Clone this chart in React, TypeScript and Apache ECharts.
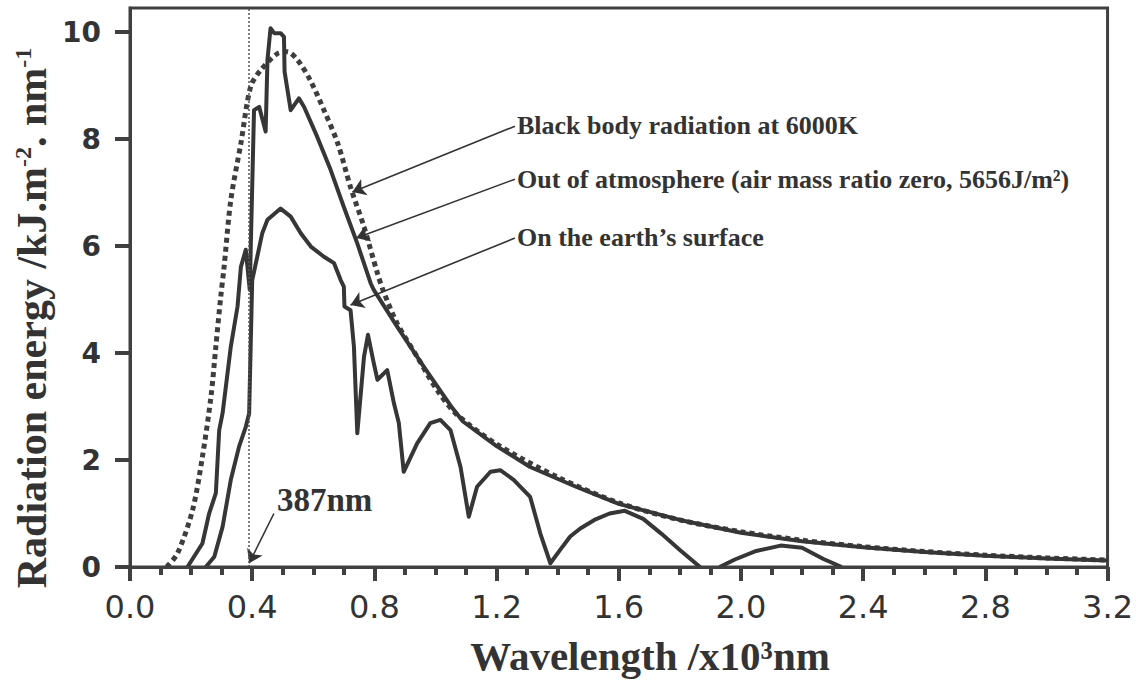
import React, { useEffect, useRef } from 'react';
import * as echarts from 'echarts';

// Black body radiation at 6000K (dotted)
const bbWavelength = [0.12, 0.156, 0.205, 0.237, 0.265, 0.281, 0.297, 0.308, 0.33, 0.363, 0.395, 0.428, 0.483, 0.515, 0.548, 0.59, 0.635, 0.68, 0.722, 0.766, 0.81, 0.83, 0.875, 0.94, 1.005, 1.07, 1.2, 1.4, 1.6, 1.8, 2.0, 2.2, 2.4, 2.6, 2.8, 3.0, 3.2];
const bbEnergy = [0, 0.26, 1.07, 2.06, 3.18, 4.12, 5.05, 5.61, 6.86, 7.92, 8.98, 9.29, 9.6, 9.63, 9.48, 9.1, 8.54, 7.92, 7.1, 6.36, 5.49, 5.15, 4.55, 3.93, 3.31, 2.85, 2.3, 1.68, 1.2, 0.88, 0.66, 0.5, 0.38, 0.29, 0.22, 0.17, 0.13];

// Out of atmosphere (air mass ratio zero)
const outWavelength = [0.188, 0.237, 0.259, 0.281, 0.292, 0.303, 0.33, 0.352, 0.363, 0.379, 0.392, 0.406, 0.423, 0.444, 0.45, 0.46, 0.472, 0.493, 0.504, 0.506, 0.526, 0.553, 0.57, 0.613, 0.657, 0.7, 0.744, 0.788, 0.798, 0.875, 0.962, 1.049, 1.09, 1.2, 1.31, 1.46, 1.6, 1.8, 2.0, 2.2, 2.4, 2.6, 2.8, 3.0, 3.2];
const outEnergy = [0, 0.44, 1.0, 1.38, 2.56, 2.87, 4.12, 4.87, 5.61, 5.93, 5.18, 8.54, 8.6, 8.14, 9.48, 10.07, 9.98, 9.98, 9.91, 9.26, 8.54, 8.76, 8.6, 8.04, 7.42, 6.73, 6.05, 5.3, 5.18, 4.49, 3.74, 3.02, 2.72, 2.26, 1.87, 1.5, 1.18, 0.88, 0.64, 0.48, 0.37, 0.28, 0.21, 0.16, 0.12];

// On the earth's surface
const surfWavelength = [0.248, 0.276, 0.303, 0.33, 0.357, 0.379, 0.39, 0.4, 0.433, 0.45, 0.493, 0.526, 0.559, 0.592, 0.635, 0.668, 0.69, 0.7, 0.702, 0.722, 0.733, 0.744, 0.766, 0.779, 0.798, 0.81, 0.842, 0.864, 0.88, 0.896, 0.94, 0.983, 1.016, 1.049, 1.082, 1.109, 1.136, 1.18, 1.212, 1.256, 1.31, 1.343, 1.376, 1.408, 1.441, 1.474, 1.52, 1.57, 1.62, 1.68, 1.74, 1.8, 1.866, 1.9, 1.93, 1.98, 2.05, 2.13, 2.2, 2.27, 2.33];
const surfEnergy: (number | null)[] = [0, 0.19, 0.75, 1.63, 2.25, 2.62, 2.87, 5.36, 6.24, 6.49, 6.7, 6.55, 6.24, 5.99, 5.8, 5.68, 5.36, 5.24, 4.87, 4.8, 4.12, 2.5, 3.93, 4.34, 3.81, 3.5, 3.68, 3.06, 2.69, 1.78, 2.31, 2.69, 2.75, 2.56, 1.87, 0.94, 1.5, 1.78, 1.81, 1.63, 1.31, 0.63, 0.07, 0.32, 0.57, 0.72, 0.88, 1.0, 1.05, 0.9, 0.62, 0.32, 0, null, 0, 0.14, 0.3, 0.4, 0.36, 0.15, 0];

const yTickValues = [0, 2, 4, 6, 8, 10];
const cutoffWavelength = 0.387;

const SERIF = '"Liberation Serif", "Times New Roman", serif';
const SANS = '"DejaVu Sans", "Liberation Sans", Arial, sans-serif';
const INK = '#363636';

const zip = (xs: number[], ys: (number | null)[]) => xs.map((x, i) => [x, ys[i] === null ? '-' : ys[i]]);

export default function App() {
  const ref = useRef<HTMLDivElement>(null);
  useEffect(() => {
    if (!ref.current) return;
    const chart = echarts.init(ref.current, null, { renderer: 'svg' });
    const arrowStyle = { color: '#333', width: 1.6, type: 'solid' as const };
    const axisColor = '#404040';
    const option: any = {
      animation: false,
      backgroundColor: '#ffffff',
      grid: {
        left: 130, right: 26, top: 8, bottom: 116,
        show: true, borderColor: axisColor, borderWidth: 3, backgroundColor: 'transparent',
      },
      xAxis: {
        type: 'value', min: 0, max: 3.2, interval: 0.4,
        axisLine: { show: true, onZero: false, lineStyle: { color: axisColor, width: 3 } },
        axisTick: { show: true, inside: false, length: 14, lineStyle: { color: axisColor, width: 4 } },
        minorTick: { show: true, splitNumber: 4, length: 8, lineStyle: { color: axisColor, width: 4 } },
        splitLine: { show: false },
        minorSplitLine: { show: false },
        axisLabel: {
          margin: 24, color: '#333',
          fontFamily: SANS, fontSize: 32,
          formatter: (v: number) => v.toFixed(1),
        },
        z: 5,
      },
      yAxis: {
        type: 'value', min: 0, max: 10.45, interval: 2,
        axisLine: { show: true, onZero: false, lineStyle: { color: axisColor, width: 3 } },
        axisTick: { show: true, inside: false, length: 15, customValues: yTickValues, lineStyle: { color: axisColor, width: 4 } },
        splitLine: { show: false },
        axisLabel: {
          margin: 29, color: '#333',
          fontFamily: SANS, fontWeight: 'bold', fontSize: 28,
          customValues: yTickValues,
        },
      },
      series: [
        {
          name: 'Black body radiation at 6000K',
          type: 'line', data: zip(bbWavelength, bbEnergy), smooth: 0.3,
          showSymbol: false, silent: true,
          lineStyle: { color: '#3e3e3e', width: 5, type: [5, 4], cap: 'butt' },
          z: 3,
          markLine: {
            silent: true, symbol: ['none', 'arrow'], symbolSize: 13,
            label: { show: false },
            lineStyle: arrowStyle,
            data: [
              [{ coord: [1.26, 8.24] }, { coord: [0.728, 7.01] }],
              [{ coord: [1.26, 7.25] }, { coord: [0.741, 6.15] }],
              [{ coord: [1.26, 6.15] }, { coord: [0.722, 4.9] }],
              [{ coord: [0.471, 1.0] }, { coord: [0.39, 0.07] }],
            ],
          },
        },
        {
          name: 'Out of atmosphere',
          type: 'line', data: zip(outWavelength, outEnergy),
          showSymbol: false, silent: true,
          lineStyle: { color: INK, width: 4, join: 'round' },
          z: 4,
          markLine: {
            silent: true, symbol: 'none',
            label: { show: false },
            lineStyle: { color: '#555', width: 1.5, type: [2, 2] },
            data: [{ xAxis: cutoffWavelength }],
          },
        },
        {
          name: "On the earth's surface",
          type: 'line', data: zip(surfWavelength, surfEnergy), connectNulls: false,
          showSymbol: false, silent: true,
          lineStyle: { color: INK, width: 4, join: 'round' },
          z: 4,
        },
      ],
      graphic: [
        { type: 'text', x: 517, y: 125, style: { text: 'Black body radiation at 6000K', font: `bold 26px ${SERIF}`, fill: '#333', verticalAlign: 'middle' } },
        { type: 'text', x: 517, y: 179, style: { text: 'Out of atmosphere (air mass ratio zero, 5656J/m²)', font: `bold 26px ${SERIF}`, fill: '#333', verticalAlign: 'middle' } },
        { type: 'text', x: 517, y: 237, style: { text: 'On the earth’s surface', font: `bold 26px ${SERIF}`, fill: '#333', verticalAlign: 'middle' } },
        { type: 'text', x: 277, y: 500, style: { text: '387nm', font: `bold 33px ${SERIF}`, fill: '#333', verticalAlign: 'middle' } },
        { type: 'text', x: 650, y: 656, style: { text: 'Wavelength /x10³nm', font: `bold 41px ${SERIF}`, fill: '#333', align: 'center', verticalAlign: 'middle' } },
        {
          type: 'text', x: 32, y: 318, rotation: Math.PI / 2,
          style: {
            text: '{t|Radiation energy /kJ.m}{s|-2}{t|. nm}{s|-1}',
            align: 'center', verticalAlign: 'middle', fill: '#333',
            rich: {
              t: { fontFamily: SERIF, fontWeight: 'bold', fontSize: 42, fill: '#333' },
              s: { fontFamily: SERIF, fontWeight: 'bold', fontSize: 24, verticalAlign: 'top', fill: '#333' },
            },
          },
        },
      ],
    };
    chart.setOption(option);
    return () => chart.dispose();
  }, []);
  return <div ref={ref} style={{ position: 'fixed', left: 0, top: 0, width: 1136, height: 683, background: '#fff' }} />;
}
